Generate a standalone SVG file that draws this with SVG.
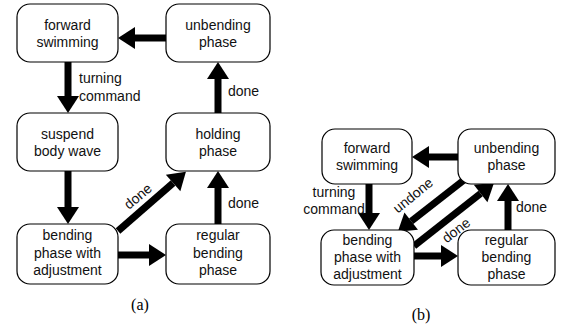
<svg xmlns="http://www.w3.org/2000/svg" width="562" height="331" viewBox="0 0 562 331">
<style>
.box{fill:#fff;stroke:#000;stroke-width:1.2}
.t{font-family:"Liberation Sans",Arial,sans-serif;font-size:14px;fill:#111;text-anchor:middle}
.l{font-family:"Liberation Sans",Arial,sans-serif;font-size:14px;fill:#111}
.cap{font-family:"Liberation Serif","Times New Roman",serif;font-size:16px;fill:#000;text-anchor:middle}
.a{stroke:#000;stroke-width:7;fill:none;marker-end:url(#h)}
</style>
<defs>
<marker id="h" markerUnits="userSpaceOnUse" markerWidth="17" markerHeight="22" refX="0" refY="11" orient="auto" overflow="visible">
<path d="M0,0 L17,11 L0,22 z" fill="#000"/>
</marker>
</defs>
<g id="connectors">
<line class="a" x1="166" y1="38" x2="135" y2="38"/>
<line class="a" x1="68" y1="62" x2="68" y2="96"/>
<line class="a" x1="218" y1="113" x2="218" y2="79"/>
<line class="a" x1="68" y1="171" x2="68" y2="207"/>
<line class="a" x1="118" y1="231" x2="173.1" y2="183"/>
<line class="a" x1="118" y1="255" x2="149" y2="255"/>
<line class="a" x1="218" y1="224" x2="218" y2="188"/>
<line class="a" x1="458" y1="157" x2="429" y2="157"/>
<line class="a" x1="369" y1="184" x2="369" y2="213"/>
<line class="a" x1="508" y1="230" x2="508" y2="201"/>
<line class="a" x1="414" y1="256" x2="441" y2="256"/>
<line class="a" x1="464" y1="180" x2="411.2" y2="221.2"/>
<line class="a" x1="414" y1="246" x2="480.6" y2="193.5"/>
<text class="l" x="79" y="83">turning</text>
<text class="l" x="79" y="101">command</text>
<text class="l" x="228" y="96">done</text>
<text class="t" transform="translate(141,200) rotate(-40)">done</text>
<text class="l" x="228" y="208">done</text>
<text class="t" x="334" y="197">turning</text>
<text class="t" x="334" y="214">command</text>
<text class="t" transform="translate(416,199) rotate(-39)">undone</text>
<text class="t" transform="translate(459,234) rotate(-38)">done</text>
<text class="l" x="516" y="212">done</text>
</g>
<g id="a-forward">
<rect class="box" x="17" y="4" width="101" height="58" rx="13"/>
<text class="t" x="67.5" y="29.5">forward</text>
<text class="t" x="67.5" y="46.5">swimming</text>
</g>
<g id="a-unbending">
<rect class="box" x="166" y="4" width="104" height="58" rx="13"/>
<text class="t" x="218" y="29.5">unbending</text>
<text class="t" x="218" y="46.5">phase</text>
</g>
<g id="a-suspend">
<rect class="box" x="17" y="113" width="101" height="58" rx="13"/>
<text class="t" x="67.5" y="138.5">suspend</text>
<text class="t" x="67.5" y="155.5">body wave</text>
</g>
<g id="a-holding">
<rect class="box" x="166" y="113" width="104" height="58" rx="13"/>
<text class="t" x="218" y="138.5">holding</text>
<text class="t" x="218" y="155.5">phase</text>
</g>
<g id="a-bending">
<rect class="box" x="17" y="224" width="101" height="60" rx="13"/>
<text class="t" x="67.5" y="240">bending</text>
<text class="t" x="67.5" y="257.5">phase with</text>
<text class="t" x="67.5" y="275">adjustment</text>
</g>
<g id="a-regular">
<rect class="box" x="166" y="224" width="104" height="60" rx="13"/>
<text class="t" x="218" y="240">regular</text>
<text class="t" x="218" y="257.5">bending</text>
<text class="t" x="218" y="275">phase</text>
</g>
<g id="b-forward">
<rect class="box" x="322" y="129" width="90" height="55" rx="13"/>
<text class="t" x="367" y="153">forward</text>
<text class="t" x="367" y="170">swimming</text>
</g>
<g id="b-unbending">
<rect class="box" x="458" y="129" width="97" height="55" rx="13"/>
<text class="t" x="506.5" y="153">unbending</text>
<text class="t" x="506.5" y="170">phase</text>
</g>
<g id="b-bending">
<rect class="box" x="321" y="230" width="93" height="55" rx="13"/>
<text class="t" x="367.5" y="245">bending</text>
<text class="t" x="367.5" y="262">phase with</text>
<text class="t" x="367.5" y="279">adjustment</text>
</g>
<g id="b-regular">
<rect class="box" x="458" y="230" width="97" height="55" rx="13"/>
<text class="t" x="506.5" y="245">regular</text>
<text class="t" x="506.5" y="262">bending</text>
<text class="t" x="506.5" y="279">phase</text>
</g>
<text class="cap" x="140" y="310">(a)</text>
<text class="cap" x="421" y="320">(b)</text>
</svg>
